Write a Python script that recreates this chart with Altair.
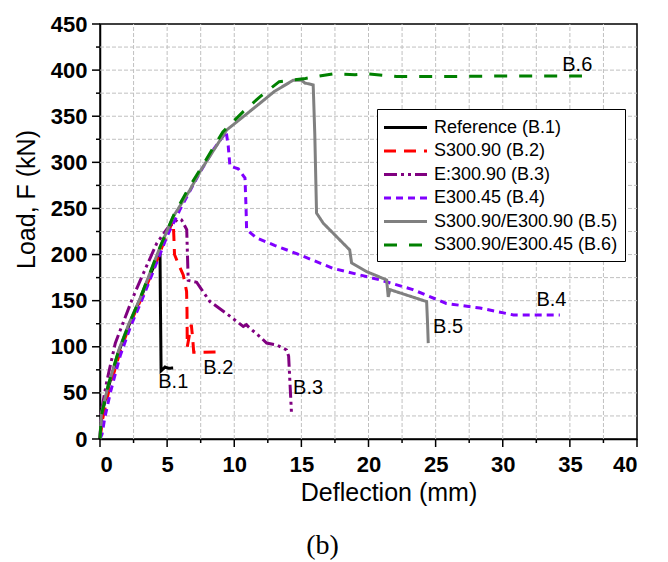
import altair as alt
import pandas as pd

series_names = ["Reference (B.1)", "S300.90 (B.2)", "E:300.90 (B.3)", "E300.45 (B.4)",
                "S300.90/E300.90 (B.5)", "S300.90/E300.45 (B.6)"]
series_colors = ["#000000", "#ff0000", "#800080", "#8000ff", "#808080", "#008000"]
series_dashes = [[1, 0], [12, 8], [13, 4, 3, 4, 3, 4], [7, 5], [1, 0], [13, 12]]

b1_x = [0, 0.1, 0.6, 1.4, 2.2, 3.0, 3.8, 4.47, 4.5, 4.55, 4.85, 5.1, 5.45]
b1_y = [0, 25, 55, 95, 125, 152, 180, 203, 150, 74, 78, 76.7, 77]

b2_x = [0, 0.2, 0.7, 1.5, 2.3, 3.1, 4.0, 4.8, 5.45, 5.5, 5.55, 5.8, 6.2, 6.45, 6.48, 6.5, 6.8, 6.9, 6.98, 7.5, 8.8]
b2_y = [0, 22, 55, 95, 127, 153, 185, 215, 237, 220, 200, 191, 178, 160, 140, 100, 124, 110, 94, 94, 94.5]

b3_x = [0, 0.1, 0.5, 1.14, 2.38, 3.0, 4.22, 5.0, 5.83, 6.08, 6.46, 6.57, 7.2, 7.57, 8.19, 9.43, 10.67,
        10.9, 11.1, 11.91, 12.41, 13.16, 13.9, 14.05, 14.27]
b3_y = [0, 30, 62, 104, 151, 172, 212, 228, 239, 237.5, 227, 172, 170, 162, 149, 136, 122,
        124, 121, 111, 104, 102, 96.5, 90, 26]

b4_x = [0, 0.15, 0.37, 0.8, 1.5, 2.3, 3.1, 4.0, 5.0, 6.0, 7.4, 8.5, 9.4, 9.55, 9.68, 10.3, 10.8,
        10.88, 10.92, 11.67, 13.0, 14.65, 17.37, 20.85, 23.3, 25.8, 28.3, 30.8, 34.25]
b4_y = [0, 5, 24, 52, 90, 123, 150, 183, 220, 250, 288, 315, 333, 318, 296, 293, 283,
        250, 227, 218, 210, 201, 185, 172.5, 162, 147, 142, 134.5, 134.5]

b5_x = [0, 0.1, 0.65, 1.4, 2.15, 3.0, 4.47, 5.45, 6.7, 7.45, 9.43, 11.91, 13.0, 14.39, 15.02, 15.26,
        15.88, 16.0, 16.13, 16.63, 18.6, 18.74, 19.86, 21.35, 21.47, 21.59, 24.33, 24.4, 24.45]
b5_y = [0, 28, 60, 96.5, 125, 153, 208, 241, 270, 290, 335, 364, 377, 389, 389, 386,
        384, 330, 245, 234, 205, 191, 181.5, 172.5, 154, 162, 149, 125, 104]

b6_x = [0, 0.1, 0.6, 1.4, 2.2, 3.0, 4.5, 5.5, 6.6, 7.45, 9.15, 10.67, 11.91, 13.35, 15.3, 17.37,
        19.0, 19.86, 22.1, 25.8, 30.8, 35.9]
b6_y = [0, 25, 58, 96, 126, 153, 209, 243, 272, 292, 333, 355, 371, 387.5, 391, 396,
        395, 396, 393, 393, 393.7, 393.7]

label_text = ["B.1", "B.2", "B.3", "B.4", "B.5", "B.6"]
label_x = [5.46, 8.81, 15.5, 33.63, 25.93, 35.55]
label_y = [61.3, 76.7, 55, 150.7, 121.8, 406]

X_MAX, Y_MAX = 40, 450
x_major = [i * 5 for i in range(9)]
x_minor = [2.5 + i * 5 for i in range(8)]
y_major = [i * 50 for i in range(10)]
y_minor = [25 + i * 50 for i in range(9)]
grid_x = [i * 2.5 for i in range(1, 16)]
grid_y = [i * 25 for i in range(1, 18)]

PLOT_W, PLOT_H = 537, 415
TICK_MAJOR_PX, TICK_MINOR_PX = 8, 4

xs = [b1_x, b2_x, b3_x, b4_x, b5_x, b6_x]
ys = [b1_y, b2_y, b3_y, b4_y, b5_y, b6_y]
rows = []
for name, sx, sy in zip(series_names, xs, ys):
    for i, (a, b) in enumerate(zip(sx, sy)):
        rows.append({"series": name, "idx": i, "x": a, "y": b})
df = pd.DataFrame(rows)
labels_df = pd.DataFrame({"t": label_text, "x": label_x, "y": label_y})

# grid segments (vertical at grid_x, horizontal at grid_y), as 2-point paths
grid_rows = []
for v in grid_x:
    grid_rows += [{"gid": f"v{v}", "x": v, "y": 0}, {"gid": f"v{v}", "x": v, "y": Y_MAX}]
for v in grid_y:
    grid_rows += [{"gid": f"h{v}", "x": 0, "y": v}, {"gid": f"h{v}", "x": X_MAX, "y": v}]
grid_df = pd.DataFrame(grid_rows)

# axis tick segments (outward), as 2-point paths
ky = Y_MAX / PLOT_H
kx = X_MAX / PLOT_W
tick_rows = []
for v in x_major:
    tick_rows += [{"tid": f"xM{v}", "x": v, "y": 0}, {"tid": f"xM{v}", "x": v, "y": -TICK_MAJOR_PX * ky}]
for v in x_minor:
    tick_rows += [{"tid": f"xm{v}", "x": v, "y": 0}, {"tid": f"xm{v}", "x": v, "y": -TICK_MINOR_PX * ky}]
for v in y_major:
    tick_rows += [{"tid": f"yM{v}", "x": -TICK_MAJOR_PX * kx, "y": v}, {"tid": f"yM{v}", "x": 0, "y": v}]
for v in y_minor:
    tick_rows += [{"tid": f"ym{v}", "x": -TICK_MINOR_PX * kx, "y": v}, {"tid": f"ym{v}", "x": 0, "y": v}]
tick_df = pd.DataFrame(tick_rows)

FONT = "Liberation Sans"

x_axis = alt.Axis(
    values=x_major,
    labelOverlap=False,
    labelFont=FONT, labelFontSize=22, labelFontWeight="bold", labelColor="black",
    labelPadding=7,
    tickSize=8, tickOpacity=0,
    domainColor="black", domainWidth=1.5,
    grid=False,
    title="Deflection (mm)", titleFont=FONT, titleFontSize=25, titleFontWeight="normal",
    titleColor="black", titleX=288.5, titleY=61, titleBaseline="alphabetic", titleAlign="center",
)
y_axis = alt.Axis(
    values=y_major,
    labelOverlap=False,
    labelFont=FONT, labelFontSize=22, labelFontWeight="bold", labelColor="black",
    labelPadding=5,
    tickSize=8, tickOpacity=0,
    domainColor="black", domainWidth=1.5,
    grid=False,
    title="Load, F (kN)", titleFont=FONT, titleFontSize=25, titleFontWeight="normal",
    titleColor="black", titleX=-66, titleY=175, titleBaseline="alphabetic", titleAlign="center",
    titleAngle=270,
)

leg = alt.Legend(
    title=None, orient="none", legendX=277, legendY=85,
    symbolType="M-2.15,0H2.15", symbolSize=400, symbolStrokeWidth=3, symbolOffset=10,
    labelOffset=17, rowPadding=2.5, padding=7,
    strokeColor="black", fillColor="white",
    labelFont=FONT, labelFontSize=18, labelColor="black", labelLimit=0,
)

xs_scale = alt.Scale(domain=[0, X_MAX], nice=False, zero=False)
ys_scale = alt.Scale(domain=[0, Y_MAX], nice=False, zero=False)

X = lambda f: alt.X(f, scale=xs_scale, axis=x_axis)
Y = lambda f: alt.Y(f, scale=ys_scale, axis=y_axis)

grid = alt.Chart(grid_df).mark_line(color="#c0c0c0", strokeWidth=1, strokeDash=[4, 2]).encode(
    x=X("x:Q"), y=Y("y:Q"), detail="gid:N")

lines = alt.Chart(df).mark_line(strokeWidth=3).encode(
    x=X("x:Q"),
    y=Y("y:Q"),
    color=alt.Color("series:N", scale=alt.Scale(domain=series_names, range=series_colors), legend=leg),
    strokeDash=alt.StrokeDash("series:N", scale=alt.Scale(domain=series_names, range=series_dashes), legend=leg),
)

texts = alt.Chart(labels_df).mark_text(font=FONT, fontSize=20, color="black", align="center", baseline="middle").encode(
    x=X("x:Q"),
    y=Y("y:Q"),
    text="t:N",
)

ticks = alt.Chart(tick_df).mark_line(color="black", strokeWidth=1.5).encode(
    x=X("x:Q"), y=Y("y:Q"), detail="tid:N")

chart = alt.layer(grid, lines, texts, ticks).properties(
    width=PLOT_W, height=PLOT_H,
    autosize=alt.AutoSizeParams(type="none"),
    padding={"left": 100, "top": 24, "right": 31, "bottom": 123},
    title=alt.TitleParams("(b)", orient="bottom", font="Liberation Serif", fontSize=28,
                          fontWeight="normal", color="black", frame="group", anchor="middle",
                          dx=-46, offset=27),
).configure_view(stroke="black", strokeWidth=1.5)

chart.save("out.html", embed_options={"renderer": "svg", "actions": False})
